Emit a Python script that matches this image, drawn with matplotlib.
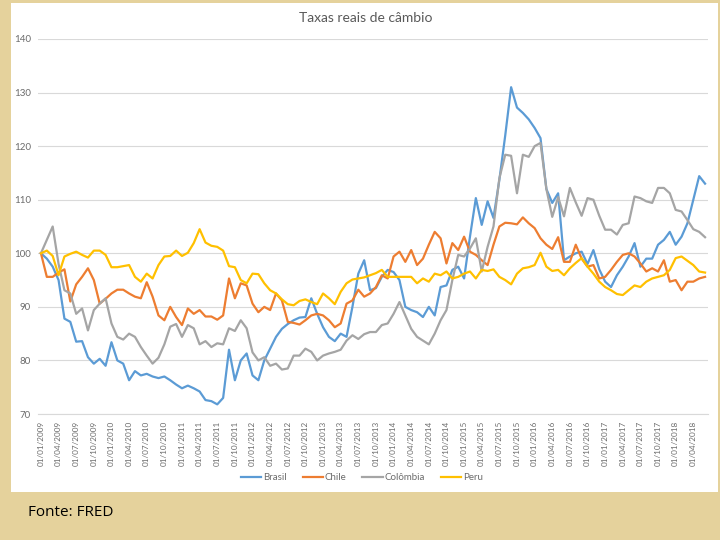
import matplotlib
matplotlib.use('Agg')
import matplotlib.pyplot as plt
from matplotlib.patches import Rectangle
import numpy as np
import pandas as pd

# monthly real exchange rate indices, jan/2009 = 100
brasil = [100, 99, 97.5, 95, 87.8, 87.2, 83.5, 83.6, 80.6, 79.4,
          80.3, 79, 83.4, 80, 79.4, 76.3, 78, 77.2, 77.5, 77,
          76.7, 77, 76.3, 75.5, 74.8, 75.3, 74.8, 74.2, 72.6, 72.4,
          71.8, 73, 82, 76.3, 80, 81.3, 77.2, 76.3, 80, 82.2,
          84.4, 85.9, 86.8, 87.5, 88, 88.1, 91.6, 88.7, 86.2, 84.4,
          83.6, 85, 84.4, 90, 96.2, 98.7, 93.1, 93.5, 95.6, 96.9,
          96.5, 95, 90, 89.4, 89, 88.1, 90, 88.4, 93.7, 94,
          96.9, 97.5, 95.3, 103.1, 110.3, 105.3, 109.7, 106.6, 113.7, 122,
          131, 127.2, 126.2, 125, 123.4, 121.5, 112, 109.4, 111.2, 98.7,
          99.4, 100, 100.3, 98, 100.6, 97, 94.7, 93.7, 95.9, 97.5,
          99.4, 101.9, 97.5, 99, 99, 101.6, 102.5, 104, 101.6, 103.1,
          105.6, 110, 114.4, 113]
chile = [100, 95.6, 95.6, 96.4, 97, 91, 94.2, 95.6, 97.2, 95,
         90.6, 91.5, 92.5, 93.2, 93.2, 92.5, 91.9, 91.6, 94.6, 91.9,
         88.4, 87.5, 90, 88.1, 86.6, 89.7, 88.7, 89.4, 88.2, 88.2,
         87.6, 88.4, 95.3, 91.6, 94.4, 94, 90.6, 89, 90, 89.4,
         92.5, 91.2, 87.2, 87, 86.7, 87.5, 88.4, 88.7, 88.4, 87.5,
         86.2, 86.9, 90.6, 91.2, 93.2, 91.9, 92.5, 93.7, 95.9, 95.3,
         99.4, 100.3, 98.4, 100.6, 97.8, 99, 101.6, 104, 102.8, 98.1,
         101.9, 100.6, 103.1, 100.3, 99.7, 98.7, 97.8, 101.6, 105, 105.7,
         105.6, 105.4, 106.7, 105.6, 104.7, 102.8, 101.6, 100.8, 103, 98.4,
         98.4, 101.6, 99, 97.5, 97.8, 95.3, 95.6, 96.9, 98.4, 99.7,
         100, 99.4, 98.1, 96.6, 97.2, 96.6, 98.7, 94.7, 95, 93.1,
         94.7, 94.7, 95.3, 95.6]
colombia = [100, 102.5, 105, 98, 93.1, 92.5, 88.7, 89.7, 85.6, 89.4,
            90.6, 91.6, 86.9, 84.4, 83.9, 85, 84.4, 82.5, 80.9, 79.4,
            80.5, 83, 86.3, 86.8, 84.4, 86.6, 86, 83, 83.6, 82.5,
            83.2, 83, 86, 85.5, 87.5, 86, 81.5, 80, 80.6, 79,
            79.4, 78.3, 78.5, 80.9, 80.9, 82.2, 81.6, 80, 80.9, 81.3,
            81.6, 82, 83.7, 84.7, 84, 84.9, 85.3, 85.3, 86.6, 86.9,
            88.7, 90.9, 88.4, 85.9, 84.4, 83.7, 83, 85, 87.5, 89.4,
            95, 99.7, 99.4, 100.9, 102.8, 96.6, 101.2, 105, 114, 118.4,
            118.2, 111.2, 118.4, 118, 120, 120.6, 112, 106.8, 110.5, 106.9,
            112.2, 109.5, 107, 110.3, 110, 107, 104.4, 104.4, 103.5, 105.3,
            105.6, 110.6, 110.3, 109.7, 109.4, 112.2, 112.2, 111.2, 108.1, 107.8,
            106.2, 104.5, 104, 103]
peru = [100, 100.5, 99.5, 95.9, 99.4, 99.9, 100.3, 99.7, 99.2, 100.5,
        100.5, 99.7, 97.4, 97.4, 97.6, 97.8, 95.6, 94.7, 96.2, 95.3,
        97.8, 99.4, 99.5, 100.5, 99.5, 100.1, 101.9, 104.5, 102, 101.4,
        101.2, 100.5, 97.6, 97.4, 95, 94.4, 96.2, 96.1, 94.4, 93.1,
        92.5, 91.4, 90.5, 90.3, 91.1, 91.4, 90.9, 90.5, 92.5, 91.6,
        90.5, 92.8, 94.4, 95.1, 95.3, 95.5, 95.9, 96.3, 96.9, 95.6,
        95.6, 95.6, 95.6, 95.6, 94.4, 95.3, 94.7, 96.2, 95.9, 96.6,
        95.3, 95.6, 96.2, 96.6, 95.3, 96.9, 96.7, 97, 95.6, 95,
        94.2, 96.2, 97.2, 97.4, 97.8, 100.1, 97.5, 96.7, 96.9, 95.9,
        97.2, 98.2, 99.1, 97.5, 96.2, 94.7, 93.7, 93.1, 92.4, 92.2,
        93.1, 94, 93.7, 94.7, 95.3, 95.6, 95.9, 96.9, 99.1, 99.4,
        98.6, 97.8, 96.6, 96.4]

series = ['Brasil', 'Chile', 'Colômbia', 'Peru']
colors = ['#5B9BD5', '#ED7D31', '#A5A5A5', '#FFC000']

months = pd.date_range('2009-01-01', periods=len(brasil), freq='MS')
tick_idx = list(range(0, len(months), 3))
tick_labels = [months[i].strftime('%d/%m/%Y') for i in tick_idx]

plt.rcParams['font.family'] = ['Lato', 'DejaVu Sans']

fig = plt.figure(figsize=(7.2, 5.4), dpi=100)
fig.patch.set_facecolor('#e5d29c')
fig.patches.append(Rectangle((11 / 720, 1 - 492 / 540), 707 / 720, 489 / 540,
                             transform=fig.transFigure, facecolor='white',
                             edgecolor='none', zorder=-10))

ax = fig.add_axes([38 / 720, 1 - 414 / 540, 670 / 720, 375 / 540])
ax.set_facecolor('none')

x = np.arange(len(brasil)) + 0.5
for name, vals, c in zip(series, [brasil, chile, colombia, peru], colors):
    ax.plot(x, vals, color=c, lw=1.6, label=name, solid_joinstyle='round')

ax.set_xlim(0, len(brasil))
ax.set_ylim(70, 140)
ax.set_yticks(range(70, 141, 10))
ax.set_xticks([i + 0.5 for i in tick_idx])
ax.set_xticklabels(tick_labels, rotation=90, fontsize=5.9, color='#6b6b6b')
ax.tick_params(axis='y', labelsize=7, colors='#6b6b6b', length=0, pad=5)
ax.tick_params(axis='x', length=0, pad=5)
ax.grid(axis='y', color='#d9d9d9', lw=0.8)
ax.set_axisbelow(True)
for s in ['top', 'right', 'left']:
    ax.spines[s].set_visible(False)
ax.spines['bottom'].set_color('#d9d9d9')

fig.text(366 / 720, 1 - 18 / 540, 'Taxas reais de câmbio', ha='center', va='center',
         fontsize=10, color='#595959')

fig.legend(loc='center', bbox_to_anchor=(362 / 720, 1 - 478 / 540), ncol=4,
           frameon=False, fontsize=7, handlelength=2.1, columnspacing=1.6,
           handletextpad=0.2, labelcolor='#6b6b6b')

fig.text(28 / 720, 1 - 512 / 540, 'Fonte: FRED', ha='left', va='center',
         fontsize=11, color='black', family=['Open Sans', 'DejaVu Sans'])

fig.savefig('out.png', dpi=100, facecolor=fig.get_facecolor())
